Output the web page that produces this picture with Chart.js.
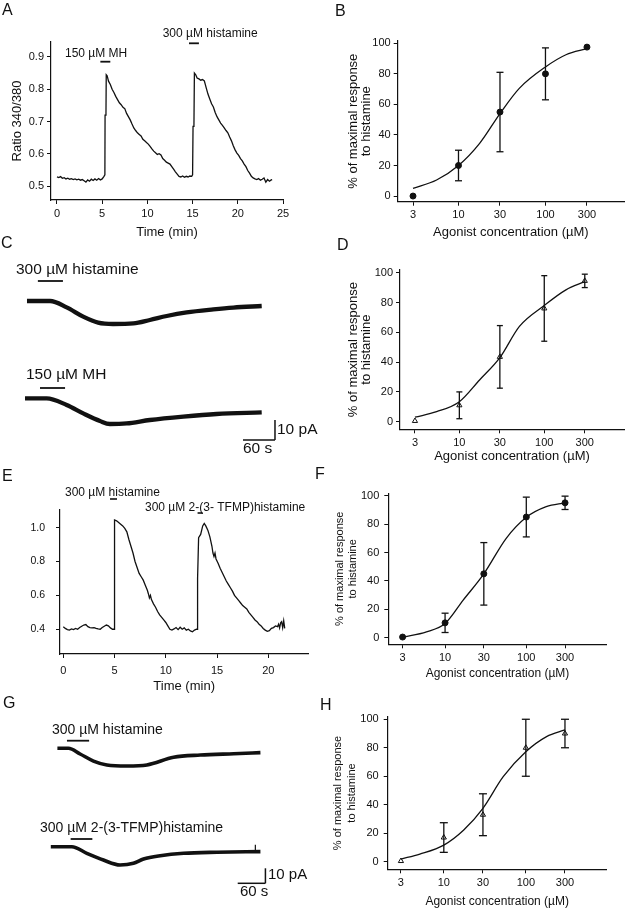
<!DOCTYPE html>
<html><head><meta charset="utf-8">
<script src="https://cdn.jsdelivr.net/npm/chart.js@4.4.1/dist/chart.umd.min.js"></script>
<style>
body{margin:0;background:#fff}
#wrap{position:relative;width:629px;height:910px;overflow:hidden;background:#fff}
canvas{position:absolute}
</style>
</head><body><div id="wrap"></div>
<script>
// ---------------- DATA ----------------
// Panel A : Ca2+ ratio trace
const aTime = [0,0.2,0.4,0.6,0.8,1.0,1.2,1.4,1.6,1.8,2.0,2.2,2.4,2.6,2.8,3.0,3.2,3.4,3.6,3.8,4.0,4.2,4.4,4.6,4.8,5.0,5.2,
  5.3,5.32,5.42,5.45,5.55,5.7,5.9,
  6.1,6.3,6.5,6.7,6.9,7.1,7.3,7.5,7.7,7.9,8.1,8.3,8.5,8.7,8.9,9.1,9.3,9.5,9.7,9.9,10.1,10.3,10.5,10.7,10.9,11.1,11.3,11.5,11.7,11.9,12.1,12.3,12.5,12.7,12.9,13.1,13.3,13.5,
  13.7,13.9,14.1,14.3,14.5,14.7,14.9,
  15.0,15.05,15.15,15.2,15.35,15.5,15.7,15.9,16.1,16.3,
  16.5,16.7,16.9,17.1,17.3,17.5,17.7,17.9,18.1,18.3,18.5,18.7,18.9,19.1,19.3,19.5,19.7,19.9,20.1,20.3,20.5,20.7,20.9,21.1,21.3,21.5,21.7,21.9,22.1,22.3,22.5,22.7,22.9,23.1,23.3,23.5,23.7,
  23.8];
const aRatio = [.528,.526,.529,.524,.526,.522,.524,.521,.523,.520,.522,.519,.521,.518,.520,.516,.512,.519,.515,.521,.517,.522,.518,.523,.519,.522,.530,
  .535,.72,.725,.845,.842,.825,.815,
  .800,.790,.778,.768,.758,.752,.744,.740,.725,.715,.705,.692,.680,.672,.665,.660,.655,.645,.640,.635,.630,.623,.615,.608,.603,.598,.600,.596,.585,.580,.574,.571,.568,.560,.552,.544,.537,.530,
  .528,.531,.527,.530,.528,.531,.530,
  .535,.685,.69,.85,.845,.835,.832,.828,.830,.826,
  .805,.785,.770,.755,.745,.728,.715,.705,.695,.688,.680,.672,.665,.652,.640,.625,.612,.602,.595,.585,.578,.568,.560,.548,.540,.530,.525,.522,.520,.523,.518,.521,.525,.512,.520,.515,.519,
  .520];
const aStimOn = [4.8, 14.6];
const aStimOff = [5.9, 15.7];
const aXTicks = [0,5,10,15,20,25];
const aYTicks = [0.5,0.6,0.7,0.8,0.9];

// Panel E : Ca2+ ratio trace
const eTime = [0,0.2,0.4,0.6,0.8,1.0,1.2,1.4,1.6,1.8,2.0,2.2,2.4,2.6,2.8,3.0,3.2,3.4,3.6,3.8,4.0,4.2,4.4,4.6,4.8,4.95,
  5.0,5.2,5.4,5.6,5.8,6.0,6.2,6.4,6.6,6.8,7.0,7.2,7.4,7.6,7.8,8.0,8.2,8.3,8.4,8.5,8.6,8.8,9.0,9.2,9.4,9.6,9.8,10.0,10.2,10.4,
  10.6,10.8,11.0,11.2,11.4,11.6,11.8,12.0,12.2,12.4,12.6,12.8,13.0,
  13.05,13.1,13.2,13.4,13.6,13.75,13.9,14.1,14.3,14.5,14.6,14.7,14.8,14.9,
  15.1,15.3,15.5,15.7,15.9,16.1,16.3,16.5,16.7,16.9,17.1,17.3,17.5,17.7,17.9,18.1,18.3,18.5,18.7,18.9,19.1,19.3,19.5,19.7,19.9,20.1,20.3,20.5,20.7,20.9,
  21.0,21.1,21.2,21.3,21.4,21.5,21.6];
const eRatio = [.415,.405,.398,.395,.402,.398,.405,.400,.410,.418,.425,.428,.415,.410,.408,.410,.405,.402,.400,.410,.418,.425,.420,.408,.400,.400,
  1.045,1.040,1.030,1.020,1.010,.995,.975,.930,.890,.850,.800,.765,.730,.710,.690,.660,.630,.610,.585,.600,.575,.550,.530,.505,.485,.470,.455,.440,.420,.400,
  .395,.402,.410,.398,.412,.400,.408,.395,.400,.390,.385,.395,.400,
  .400,.700,.940,.960,1.010,1.025,1.010,.985,.945,.890,.850,.830,.850,.815,
  .790,.760,.735,.710,.685,.665,.645,.625,.600,.585,.570,.555,.540,.530,.520,.500,.485,.470,.455,.445,.430,.420,.405,.395,.388,.392,.405,.410,.420,.415,
  .430,.408,.438,.445,.410,.450,.405];
const eStimOn = [4.56, 13.1];
const eStimOff = [5.24, 13.6];
const eXTicks = [0,5,10,15,20];
const eYTicks = [0.4,0.6,0.8,1.0];

// Concentration–response panels (B, D, F, H)
const conc = [3,10,30,100,300];
const pctTicks = [0,20,40,60,80,100];
const bMean = [0,20,55,80,97.5];
const bSem  = [0,10,26,17,0];
const bFitX = [3,5.6,10,17.5,30,50,100,172,300];
const bFitY = [5,10.5,20,34.5,54,70.5,84.5,92.5,96.5];
const dMean = [0.5,11,43.5,76,94.5];
const dSem  = [0,9,21,22,4.5];
const dFitX = [3,5.4,10,17.3,30,51,100,180,300];
const dFitY = [3,6.7,13.4,28,43,64,78,88.5,94];
const fMean = [0.5,10.5,45,85,95];
const fSem  = [0,6.8,22,14,4.7];
const fFitX = [3,5.9,10,16.7,30,56.6,100,176,300];
const fFitY = [0.3,4.2,10,26.5,45,70,84.8,92.3,95];
const hMean = [0.5,17,33,80,90];
const hSem  = [0,10.4,14.7,20,10];
const hFitX = [3,5.1,10,17.5,30,53,100,179,300];
const hFitY = [1.9,5.4,11.7,22.3,37.5,59.7,77.2,87.8,92.5];

// Panel C : whole-cell currents (s, pA)
const cTime1 = [50.6,93.8,125,156,184,212,250,281,312.6,350,400,437.5,490.7];
const cCurr1 = [-25.5,-25.5,-28.7,-33.3,-36.3,-37,-36.7,-35,-33,-31.2,-29.7,-28.8,-28];
const cTime2 = [46.9,87.5,125,156,187.5,206,237.5,281,343.7,406,490.7];
const cCurr2 = [-74.2,-74.2,-77.5,-81.7,-85.5,-87,-86.7,-85,-83.3,-82,-81.2];
const cStimOn = [71, 75];
const cStimOff = [118, 122];
// Panel G : whole-cell currents (s, pA)
const gTime1 = [124.3,148.2,173.5,202.4,231.5,274.8,318.2,376,433.8,506,564];
const gCurr1 = [-32.2,-32.2,-36,-40.7,-43.3,-44,-43.3,-38.2,-36.7,-35.8,-35.1];
const gTime2 = [110,155.5,188,224,260,289,310.8,347,397.6,470,564];
const gCurr2 = [-97.8,-97.8,-102.2,-106.7,-110,-108.9,-106,-103.8,-102.2,-101.5,-101.1];
const gStimOn = [145, 153];
const gStimOff = [193, 200];
const barPA = 10;   // scale bar, pA
const barS = 60;    // scale bar, s

// ---------------- HELPERS ----------------
const FONT = "'Liberation Sans', Arial, sans-serif";
const INK = '#111';

function makeCanvas(left, top, w, h) {
  const c = document.createElement('canvas');
  c.width = w; c.height = h;
  c.style.left = left + 'px'; c.style.top = top + 'px';
  c.style.width = w + 'px'; c.style.height = h + 'px';
  document.getElementById('wrap').appendChild(c);
  return c;
}
function txt(ctx, s, x, y, size, align) {
  ctx.save();
  ctx.fillStyle = INK;
  ctx.font = size + 'px ' + FONT;
  ctx.textAlign = align || 'left';
  ctx.textBaseline = 'middle';
  ctx.fillText(s, x, y);
  ctx.restore();
}
function seg(ctx, x1, y1, x2, y2, w) {
  ctx.save();
  ctx.strokeStyle = INK; ctx.lineWidth = w || 1.2;
  ctx.beginPath(); ctx.moveTo(x1, y1); ctx.lineTo(x2, y2); ctx.stroke();
  ctx.restore();
}
function pts(xs, ys) { return xs.map((x, i) => ({x: x, y: ys[i]})); }

function axisX(o) {
  return {
    type: o.type || 'linear', position: 'bottom', min: o.min, max: o.max, display: true,
    afterBuildTicks: s => { s.ticks = o.ticks.map(v => ({value: v})); },
    afterFit: s => { s.height = o.hx; },
    grid: {display: true, drawOnChartArea: false, drawTicks: true, tickLength: 4, color: INK, lineWidth: 1},
    border: {display: true, color: INK, width: 1.2},
    ticks: {color: INK, font: {family: FONT, size: o.tickSize}, padding: o.tickPad == null ? 3 : o.tickPad,
      maxRotation: 0, minRotation: 0, autoSkip: false, callback: o.fmt || (v => String(v))},
    title: {display: true, text: o.title, color: INK, font: {family: FONT, size: o.titleSize},
      padding: {top: 0, bottom: o.titlePad}}
  };
}
function axisY(o) {
  return {
    type: 'linear', position: 'left', min: o.min, max: o.max, display: true,
    afterBuildTicks: s => { s.ticks = o.ticks.map(v => ({value: v})); },
    afterFit: s => { s.width = o.wy; },
    grid: {display: true, drawOnChartArea: false, drawTicks: true, tickLength: 4, color: INK, lineWidth: 1},
    border: {display: true, color: INK, width: 1.2},
    ticks: {color: INK, font: {family: FONT, size: o.tickSize}, padding: o.tickPad == null ? 3 : o.tickPad,
      autoSkip: false, callback: o.fmt || (v => String(v))},
    title: {display: !!o.title, text: o.title, color: INK,
      font: {family: FONT, size: o.titleSize, lineHeight: o.titleLH || 1.2},
      padding: {top: o.titlePad, bottom: 0}}
  };
}
function baseOpts(padTop, padRight, scales) {
  return {
    responsive: false, animation: false, devicePixelRatio: 1, events: [],
    layout: {padding: {left: 0, top: padTop, right: padRight, bottom: 0}},
    plugins: {legend: {display: false}, tooltip: {enabled: false}},
    scales: scales
  };
}

// ---------------- PANEL A ----------------
new Chart(makeCanvas(0, 0, 315, 240), {
  type: 'scatter',
  data: {datasets: [{data: pts(aTime, aRatio), showLine: true, pointRadius: 0, borderColor: INK, borderWidth: 1.3, tension: 0}]},
  options: baseOpts(42, 32, {
    x: axisX({min: -0.66, max: 25, ticks: aXTicks, hx: 40, tickSize: 11, title: 'Time (min)', titleSize: 13, titlePad: 0}),
    y: axisY({min: 0.4566, max: 0.9465, ticks: aYTicks, wy: 51, tickSize: 11, fmt: v => v.toFixed(1),
      title: 'Ratio 340/380', titleSize: 13, titlePad: 9.7})
  }),
  plugins: [{id: 'decoA', afterDraw(chart) {
    const ctx = chart.ctx, x = chart.scales.x;
    txt(ctx, 'A', 2, 11, 16);
    txt(ctx, '150 µM MH', 65, 54, 12);
    txt(ctx, '300 µM histamine', 162.7, 34, 12);
    seg(ctx, x.getPixelForValue(aStimOn[0]), 61.7, x.getPixelForValue(aStimOff[0]), 61.7, 1.8);
    seg(ctx, x.getPixelForValue(aStimOn[1]), 43.3, x.getPixelForValue(aStimOff[1]), 43.3, 1.8);
  }}]
});

// ---------------- DOSE PANELS ----------------
function dose(o) {
  new Chart(makeCanvas(o.left, o.top, o.w, o.h), {
    type: 'scatter',
    data: {datasets: [
      {data: pts(o.fitX, o.fitY), showLine: true, pointRadius: 0, borderColor: INK, borderWidth: 1.3,
        cubicInterpolationMode: 'monotone'},
      {data: pts(conc, o.mean), showLine: false, pointRadius: o.r, pointStyle: o.style,
        pointBackgroundColor: o.fill, pointBorderColor: INK, pointBorderWidth: 1}
    ]},
    options: baseOpts(o.padTop, o.padRight, {
      x: axisX({type: 'logarithmic', min: o.xmin, max: o.xmax, ticks: conc, hx: o.hx, tickSize: 11,
        title: 'Agonist concentration (µM)', titleSize: o.xtSize, titlePad: o.xtPad}),
      y: axisY({min: o.ymin, max: o.ymax, ticks: pctTicks, wy: o.wy, tickSize: 11, tickPad: o.ytPadTick,
        title: ['% of maximal response', 'to histamine'], titleSize: o.ytSize, titleLH: o.ytLH, titlePad: o.ytPad})
    }),
    plugins: [{id: 'err' + o.letter, afterDatasetsDraw(chart) {
      const ctx = chart.ctx, x = chart.scales.x, y = chart.scales.y;
      conc.forEach((c, i) => {
        if (!o.sem[i]) return;
        const px = x.getPixelForValue(c);
        const y1 = y.getPixelForValue(o.mean[i] + o.sem[i]);
        const y2 = y.getPixelForValue(o.mean[i] - o.sem[i]);
        seg(ctx, px, y1, px, y2, 1.3);
        seg(ctx, px - o.cap, y1, px + o.cap, y1, 1.3);
        seg(ctx, px - o.cap, y2, px + o.cap, y2, 1.3);
      });
    }, afterDraw(chart) {
      txt(chart.ctx, o.letter, o.lx, o.ly, 16);
    }}]
  });
}

dose({letter: 'B', lx: 15, ly: 12, left: 320, top: 0, w: 309, h: 240, wy: 77.7, hx: 38.3, padTop: 40.7, padRight: 4,
  xmin: 2, xmax: 800, ymin: -3.7, ymax: 101.7, mean: bMean, sem: bSem, fitX: bFitX, fitY: bFitY,
  r: 3, style: 'circle', fill: INK, cap: 3.5, xtSize: 13, xtPad: 0, ytSize: 13, ytLH: 1.03, ytPad: 26.6, ytPadTick: 3});
dose({letter: 'D', lx: 17, ly: 10, left: 320, top: 236, w: 309, h: 229, wy: 80, hx: 35.7, padTop: 34, padRight: 4,
  xmin: 2, xmax: 869, ymin: -5.1, ymax: 101.8, mean: dMean, sem: dSem, fitX: dFitX, fitY: dFitY,
  r: 3, style: 'triangle', fill: '#fff', cap: 3, xtSize: 13, xtPad: 0.5, ytSize: 13, ytLH: 1.054, ytPad: 26.3, ytPadTick: 3});
dose({letter: 'F', lx: 5, ly: 10, left: 310, top: 465, w: 319, h: 220, wy: 78.3, hx: 40.7, padTop: 28.3, padRight: 22.3,
  xmin: 2, xmax: 977, ymin: -4.6, ymax: 101.7, mean: fMean, sem: fSem, fitX: fFitX, fitY: fFitY,
  r: 3, style: 'circle', fill: INK, cap: 3.5, xtSize: 12, xtPad: 4.5, ytSize: 11, ytLH: 1.21, ytPad: 23.35, ytPadTick: 5});
dose({letter: 'H', lx: 0, ly: 11, left: 320, top: 695, w: 309, h: 215, wy: 67.7, hx: 40.7, padTop: 21.7, padRight: 22.3,
  xmin: 2.07, xmax: 968, ymin: -5.3, ymax: 101.8, mean: hMean, sem: hSem, fitX: hFitX, fitY: hFitY,
  r: 3, style: 'triangle', fill: '#fff', cap: 4, xtSize: 12, xtPad: 1.1, ytSize: 11, ytLH: 1.22, ytPad: 11.65, ytPadTick: 5});

// ---------------- PANEL C ----------------
function traceDs(xs, ys, w) {
  return {data: pts(xs, ys), showLine: true, pointRadius: 0, borderColor: INK, borderWidth: w,
    cubicInterpolationMode: 'monotone'};
}
new Chart(makeCanvas(0, 232, 320, 228), {
  type: 'scatter',
  data: {datasets: [traceDs(cTime1, cCurr1, 4.3), traceDs(cTime2, cCurr2, 4.3)]},
  options: baseOpts(0, 0, {
    x: {type: 'linear', display: false, min: 0, max: 600},
    y: {type: 'linear', display: false, min: -105, max: 9}
  }),
  plugins: [{id: 'decoC', afterDraw(chart) {
    const ctx = chart.ctx, x = chart.scales.x, y = chart.scales.y;
    txt(ctx, 'C', 1, 12, 16);
    txt(ctx, '300 µM histamine', 16, 38, 15.5);
    txt(ctx, '150 µM MH', 26, 143, 15.5);
    seg(ctx, x.getPixelForValue(cStimOn[0]), 49, x.getPixelForValue(cStimOff[0]), 49, 1.8);
    seg(ctx, x.getPixelForValue(cStimOn[1]), 156, x.getPixelForValue(cStimOff[1]), 156, 1.8);
    const xr = x.getPixelForValue(515.6), xl = x.getPixelForValue(515.6 - barS);
    const yb = y.getPixelForValue(-95), yt = y.getPixelForValue(-95 + barPA);
    seg(ctx, xr, yt, xr, yb, 1.5);
    seg(ctx, xl, yb, xr, yb, 1.5);
    txt(ctx, barPA + ' pA', 277, 198, 15.5);
    txt(ctx, barS + ' s', 243, 217, 15.5);
  }}]
});

// ---------------- PANEL E ----------------
new Chart(makeCanvas(0, 465, 315, 230), {
  type: 'scatter',
  data: {datasets: [{data: pts(eTime, eRatio), showLine: true, pointRadius: 0, borderColor: INK, borderWidth: 1.3, tension: 0}]},
  options: baseOpts(45, 6.7, {
    x: axisX({min: -0.32, max: 23.9, ticks: eXTicks, hx: 41, tickSize: 11, tickPad: 6, title: 'Time (min)', titleSize: 13, titlePad: 0.5}),
    y: axisY({min: 0.254, max: 1.104, ticks: eYTicks, wy: 60, tickSize: 10.5, tickPad: 11, fmt: v => v.toFixed(1), title: ''})
  }),
  plugins: [{id: 'decoE', afterDraw(chart) {
    const ctx = chart.ctx, x = chart.scales.x;
    txt(ctx, 'E', 2, 12, 16);
    txt(ctx, '300 µM histamine', 65, 28, 12);
    txt(ctx, '300 µM 2-(3- TFMP)histamine', 145, 43, 12);
    seg(ctx, x.getPixelForValue(eStimOn[0]), 34, x.getPixelForValue(eStimOff[0]), 34, 1.6);
    seg(ctx, x.getPixelForValue(eStimOn[1]), 48, x.getPixelForValue(eStimOff[1]), 48, 1.6);
  }}]
});

// ---------------- PANEL G ----------------
new Chart(makeCanvas(0, 695, 320, 215), {
  type: 'scatter',
  data: {datasets: [traceDs(gTime1, gCurr1, 3.6), traceDs(gTime2, gCurr2, 3.6),
    {data: pts([553, 553], [-101.2, -96.5]), showLine: true, pointRadius: 0, borderColor: INK, borderWidth: 1.2}]},
  options: baseOpts(0, 0, {
    x: {type: 'linear', display: false, min: 0, max: 693},
    y: {type: 'linear', display: false, min: -140, max: 3.33}
  }),
  plugins: [{id: 'decoG', afterDraw(chart) {
    const ctx = chart.ctx, x = chart.scales.x, y = chart.scales.y;
    txt(ctx, 'G', 3, 9, 16);
    txt(ctx, '300 µM histamine', 52, 35, 14);
    txt(ctx, '300 µM 2-(3-TFMP)histamine', 40, 133, 14);
    seg(ctx, x.getPixelForValue(gStimOn[0]), 45.7, x.getPixelForValue(gStimOff[0]), 45.7, 1.8);
    seg(ctx, x.getPixelForValue(gStimOn[1]), 144, x.getPixelForValue(gStimOff[1]), 144, 1.8);
    const xr = x.getPixelForValue(574.8), xl = x.getPixelForValue(574.8 - barS);
    const yb = y.getPixelForValue(-122.2), yt = y.getPixelForValue(-122.2 + barPA);
    seg(ctx, xr, yt, xr, yb, 1.5);
    seg(ctx, xl, yb, xr, yb, 1.5);
    txt(ctx, barPA + ' pA', 268, 180, 15);
    txt(ctx, barS + ' s', 240, 196.7, 15);
  }}]
});
</script>
</body></html>
